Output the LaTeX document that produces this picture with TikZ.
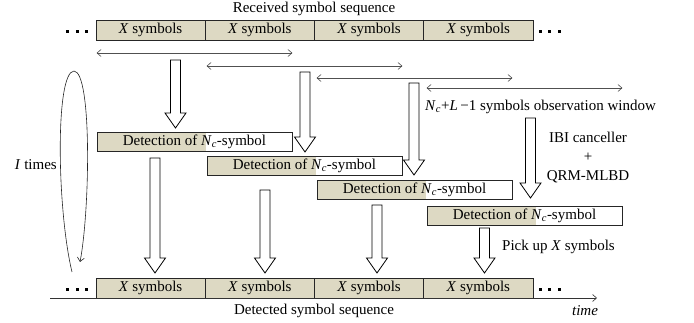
\documentclass[tikz,border=0pt]{standalone}
\usepackage{fontspec}
\setmainfont{Liberation Serif}
\usepackage{xcolor}
\usetikzlibrary{arrows.meta,positioning}

\definecolor{tanfill}{HTML}{DDD9C3}
\definecolor{wingray}{HTML}{505050}

% hollow block arrow pointing down: x, top y, tip y
\newcommand{\blkdown}[3]{%
  \draw[blk] (#1-5,#2) -- (#1+5,#2) -- (#1+5,#3-15) -- (#1+10.5,#3-15)
  -- (#1,#3) -- (#1-10.5,#3-15) -- (#1-5,#3-15) -- cycle;}
% three square dots centred at x, y
\newcommand{\sqdots}[2]{%
  \foreach \dx in {-9.5,0,9.5}
    \fill[black] (#1+\dx-1.5,#2-1.5) rectangle (#1+\dx+1.5,#2+1.5);}

\begin{document}
\begin{tikzpicture}[
    x=1pt, y=-1pt, font=\fontsize{15}{18}\selectfont,
    >={Straight Barb[length=4pt,width=7pt]},
    seq/.style={draw=black!85, fill=tanfill, line width=0.8pt,
      minimum width=109.25pt, minimum height=20pt, inner sep=0pt},
    det/.style={draw=black!85, line width=0.8pt, minimum width=195pt,
      minimum height=19pt, inner sep=0pt,
      path picture={\fill[tanfill] (path picture bounding box.north west)
        rectangle ([xshift=109pt]path picture bounding box.south west);}},
    win/.style={<->, line width=0.6pt, draw=wingray},
    blk/.style={draw=black, line width=0.8pt, fill=white, line join=miter},
    lbl/.style={inner sep=0pt}]

  \useasboundingbox (0,0) rectangle (694,323);

  % ---- received symbol sequence ----
  \node[lbl] (rtitle) at (314,9) {Received symbol sequence};
  \foreach \i in {1,...,4}
    \node[seq] (r\i) at (41.375+109.25*\i,30) {\textit{X} symbols};
  \sqdots{77}{32}
  \sqdots{549.5}{32}

  % ---- detection of Nc-symbol blocks ----
  \node[det] (det1) at (194.5,141.5) {Detection of \textit{N}\textsubscript{\textit{c}}-symbol};
  \node[det] (det2) at (304.5,165.5) {Detection of \textit{N}\textsubscript{\textit{c}}-symbol};
  \node[det] (det3) at (414.5,189.5) {Detection of \textit{N}\textsubscript{\textit{c}}-symbol};
  \node[det] (det4) at (524.5,215.5) {Detection of \textit{N}\textsubscript{\textit{c}}-symbol};

  % ---- observation windows ----
  \draw[win] (det1.west |- 0,53) -- (det1.east |- 0,53);
  \draw[win] (det2.west |- 0,66) -- (det2.east |- 0,66);
  \draw[win] (det3.west |- 0,78) -- (det3.east |- 0,78);
  \draw[win] (det4.west |- 0,88) -- (det4.east |- 0,88);
  \node[lbl, anchor=west] (obs) at (425,107)
    {\textit{N}\textsubscript{\textit{c}}+\textit{L}\,−1 symbols observation window};
  \node[lbl, align=center] (ibi) at (588,158)
    {IBI canceller\\[1pt]+\\[1pt]QRM-MLBD};

  % ---- block arrows into detection ----
  \blkdown{175.5}{60}{128}
  \blkdown{305}{72}{152}
  \blkdown{414}{83}{175}
  \blkdown{530.5}{118}{198}

  % ---- block arrows out of detection ----
  \blkdown{155}{158}{273}
  \blkdown{265}{190}{273}
  \blkdown{377}{205}{273}
  \blkdown{484.5}{228}{273}
  \node[lbl, anchor=west] (pick) at (502,247) {Pick up \textit{X} symbols};

  % ---- detected symbol sequence ----
  \foreach \i in {1,...,4}
    \node[seq] (d\i) at (41.375+109.25*\i,288) {\textit{X} symbols};
  \sqdots{77}{290}
  \sqdots{549.5}{290}
  \coordinate (t0) at (50,298);
  \coordinate (t1) at (597,298);
  \draw[->, line width=0.6pt, draw=black!80] (t0) -- (t1);
  \node[lbl] (time) at (585,311) {\textit{time}};
  \node[lbl] (dtitle) at (314,311) {Detected symbol sequence};

  % ---- iteration loop ----
  \draw[->, line width=0.6pt, draw=black!85] (72,272)
    .. controls (57,210) and (55,72) .. (74,71)
    .. controls (92,72) and (90,210) .. (80,262);
  \node[lbl, anchor=east] (iter) at (57,165) {\textit{I} times};
\end{tikzpicture}
\end{document}
